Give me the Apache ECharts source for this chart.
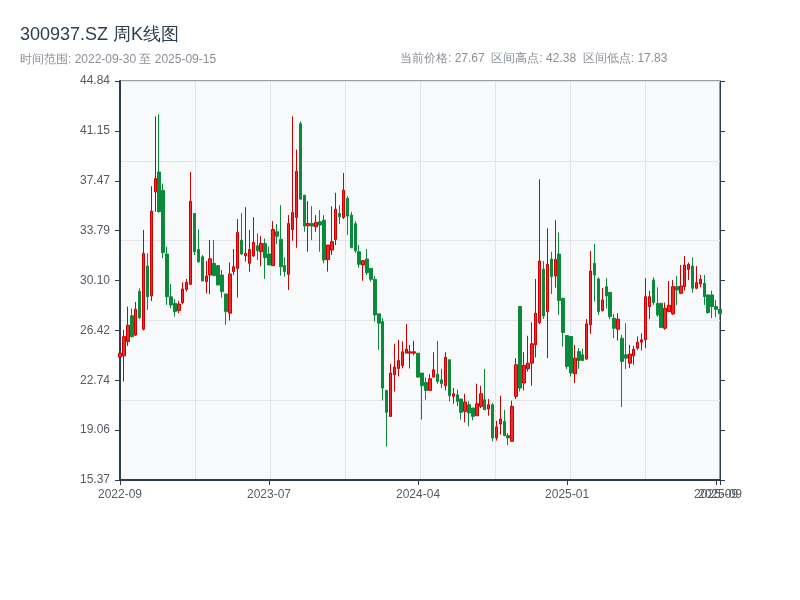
<!DOCTYPE html>
<html>
<head>
<meta charset="utf-8">
<script src="https://cdn.jsdelivr.net/npm/echarts@6/dist/echarts.min.js"></script>
<style>html,body{margin:0;padding:0;background:#fff}#c{width:800px;height:600px}</style>
</head>
<body>
<div id="c"></div>
<script>
const dates = [
'2022-09-30','2022-10-14','2022-10-21','2022-10-28','2022-11-04','2022-11-11','2022-11-18','2022-11-25','2022-12-02','2022-12-09','2022-12-16','2022-12-23','2022-12-30',
'2023-01-06','2023-01-13','2023-01-20','2023-02-03','2023-02-10','2023-02-17','2023-02-24','2023-03-03','2023-03-10','2023-03-17','2023-03-24','2023-03-31','2023-04-07','2023-04-14','2023-04-21','2023-04-28','2023-05-05','2023-05-12','2023-05-19','2023-05-26','2023-06-02','2023-06-09','2023-06-16','2023-06-21','2023-06-30','2023-07-07',
'2023-07-14','2023-07-21','2023-07-28','2023-08-04','2023-08-11','2023-08-18','2023-08-25','2023-09-01','2023-09-08','2023-09-15','2023-09-22','2023-09-28','2023-10-13','2023-10-20','2023-10-27','2023-11-03','2023-11-10','2023-11-17','2023-11-24','2023-12-01','2023-12-08','2023-12-15','2023-12-22','2023-12-29',
'2024-01-05','2024-01-12','2024-01-19','2024-01-26','2024-02-02','2024-02-08','2024-02-23','2024-03-01','2024-03-08','2024-03-15','2024-03-22','2024-03-29','2024-04-03','2024-04-12',
'2024-04-19','2024-04-26','2024-04-30','2024-05-10','2024-05-17','2024-05-24','2024-05-31','2024-06-07','2024-06-14','2024-06-21','2024-06-28','2024-07-05','2024-07-12','2024-07-19','2024-07-26','2024-08-02','2024-08-09','2024-08-16','2024-08-23','2024-08-30','2024-09-06','2024-09-13','2024-09-20','2024-09-27','2024-09-30','2024-10-11','2024-10-18','2024-10-25','2024-11-01','2024-11-08','2024-11-15','2024-11-22','2024-11-29','2024-12-06','2024-12-13','2024-12-20','2024-12-27',
'2025-01-03','2025-01-10','2025-01-17','2025-01-24','2025-01-27','2025-02-05','2025-02-07','2025-02-14','2025-02-21','2025-02-28','2025-03-07','2025-03-14','2025-03-21','2025-03-28','2025-04-03','2025-04-11','2025-04-18','2025-04-25','2025-04-30','2025-05-09','2025-05-16','2025-05-23','2025-05-30','2025-06-03','2025-06-06','2025-06-13','2025-06-20','2025-06-27','2025-07-04','2025-07-11','2025-07-18','2025-07-25','2025-08-01','2025-08-08','2025-08-15','2025-08-22','2025-08-29','2025-09-05','2025-09-12','2025-09-15'
];

const opens = [
24.45,24.54,25.60,27.50,26.07,29.30,26.51,31.17,28.96,36.65,38.12,36.77,32.06,28.90,28.42,27.88,28.47,29.45,29.82,35.05,
32.40,31.86,30.02,30.51,31.37,31.20,30.51,29.11,27.69,30.76,31.00,33.09,31.93,31.37,31.91,32.67,32.23,32.84,32.06,31.20,
33.70,33.14,31.20,30.56,33.87,34.76,41.68,36.40,34.15,34.32,34.07,34.44,34.56,31.66,32.35,33.14,35.05,34.76,36.16,34.93,
34.30,32.23,31.25,31.69,31.00,30.19,27.64,27.07,21.99,20.07,23.14,23.61,23.83,24.74,24.74,24.74,24.74,23.27,22.58,21.99,
22.97,23.19,22.77,22.33,24.25,21.55,21.67,21.35,20.44,20.93,20.69,20.12,20.81,21.30,20.61,20.93,18.48,19.51,19.70,18.65,
18.23,21.55,28.18,22.53,23.58,24.00,25.35,27.00,30.95,27.81,31.69,30.44,32.06,28.79,26.04,25.97,23.22,24.86,24.62,24.30,
26.83,31.37,30.22,27.88,29.65,29.23,27.32,26.51,25.84,24.62,24.00,24.54,25.11,25.55,25.72,28.18,30.14,28.42,28.42,26.58,
27.81,27.64,29.65,29.16,29.65,30.93,31.17,29.53,29.85,29.90,29.04,29.04,28.18,27.98
];
const closes = [
24.74,25.96,26.80,25.95,27.98,27.35,32.10,28.91,35.23,37.63,35.20,32.15,28.91,28.30,27.81,28.37,29.48,29.97,35.96,32.23,
31.49,30.07,30.44,31.71,30.46,29.77,29.28,27.81,30.58,31.12,33.65,32.06,32.10,32.40,32.92,32.30,32.84,31.79,31.25,33.87,
33.38,31.12,30.76,34.32,35.13,38.17,36.11,34.12,34.32,34.12,34.39,34.20,31.62,32.72,32.97,35.37,34.81,36.77,34.86,32.52,
32.30,31.30,31.57,30.68,30.19,27.56,26.95,22.16,20.37,23.27,23.71,24.20,24.84,25.03,24.84,24.84,22.97,22.33,21.99,22.85,
23.51,22.65,22.48,24.44,21.60,21.74,21.18,20.37,21.13,20.32,20.07,21.00,21.74,20.56,20.93,18.48,19.29,19.88,18.65,18.48,
20.81,23.88,22.16,23.83,24.00,25.43,27.69,31.54,27.49,31.30,30.39,31.66,28.62,26.26,23.76,23.27,24.37,24.20,24.20,26.90,
30.81,30.51,27.81,28.67,28.96,27.44,26.58,27.25,24.13,24.37,24.67,25.03,25.55,25.72,28.91,28.91,28.47,27.56,26.63,28.05,
28.28,29.65,29.40,29.70,31.25,31.30,29.53,29.95,30.19,28.91,27.74,28.18,27.98,27.67
];
const lows = [
24.40,22.65,25.28,25.90,26.02,27.24,26.41,27.93,28.59,35.18,35.10,31.74,28.30,28.05,27.44,27.69,28.35,29.28,29.82,31.98,
31.40,30.07,29.16,29.09,30.46,29.77,28.84,26.83,27.15,30.51,28.84,31.98,31.50,30.76,31.86,31.61,31.17,30.22,31.25,31.20,
32.79,30.46,30.39,29.40,33.04,32.52,36.11,33.70,32.23,33.09,33.70,32.23,31.37,30.76,31.98,32.72,34.27,34.64,33.46,32.52,
32.16,31.05,30.09,30.51,30.02,27.07,24.98,21.25,17.83,20.07,21.91,23.02,23.61,24.74,23.61,24.57,22.95,19.83,21.30,21.99,
22.97,22.48,22.16,21.99,21.18,21.00,20.81,19.83,19.63,19.34,19.78,20.12,20.69,20.56,20.12,18.23,18.28,18.72,18.60,17.94,
18.23,21.35,21.91,21.99,23.39,22.33,24.42,26.88,27.27,24.37,29.11,29.58,27.56,25.23,23.56,23.02,22.53,23.58,24.13,24.25,
26.16,28.55,27.56,27.81,28.05,27.25,25.84,25.67,20.76,23.56,23.63,23.88,24.98,24.94,25.11,27.25,28.30,27.44,26.63,26.46,
27.81,27.56,28.30,29.11,29.36,30.14,29.21,29.46,29.60,28.30,27.64,27.32,27.39,27.67
];
const highs = [
24.80,26.46,28.18,28.05,28.52,29.53,33.83,32.11,37.07,42.22,42.38,37.26,32.60,29.85,28.72,28.59,29.97,30.22,38.12,35.05,
33.87,31.98,31.54,33.09,33.09,31.25,30.88,29.11,31.44,32.43,34.64,35.08,35.52,33.83,34.78,33.58,33.38,33.21,32.60,34.49,
34.27,35.67,31.81,34.93,42.22,39.77,41.86,36.40,35.96,35.59,34.93,35.30,34.93,32.72,35.59,36.58,35.67,38.05,36.33,35.18,
34.51,32.72,31.62,32.43,31.00,30.44,27.64,27.32,21.99,23.95,25.43,25.72,25.60,26.90,25.35,25.65,24.74,23.27,22.95,23.19,
24.81,25.65,23.58,24.81,24.25,22.16,22.04,21.35,21.74,21.18,20.69,22.48,22.33,23.58,21.35,21.06,19.75,21.60,20.56,18.84,
21.23,24.37,28.18,24.81,26.02,27.02,30.22,37.58,31.54,33.95,32.23,34.56,33.65,28.79,26.04,25.97,25.35,25.11,25.06,27.25,
32.28,32.80,30.34,29.55,30.27,29.23,27.64,27.69,26.09,26.95,25.35,25.28,25.97,26.21,30.27,29.33,30.34,29.60,28.42,28.47,
30.07,30.14,30.44,31.25,31.91,31.42,31.81,31.17,30.51,30.51,29.04,29.36,28.67,27.98
];

const yMin = 15.3725, yStep = 3.683, yMax = yMin + 8 * yStep;
const labelEvery = 38;
const axisColor = '#2d3b4d';
const labelColor = '#555c66';

const kData = dates.map((d, i) => [opens[i], closes[i], lows[i], highs[i]]);
const lastIdx = dates.length - 1;
const regularLabel = (idx) => idx % labelEvery === 0;
const tickAt = (idx) => idx % labelEvery === 0 || idx === lastIdx;
const lastLabel = (idx) => idx === lastIdx;

const chart = echarts.init(document.getElementById('c'), null, { renderer: 'canvas' });
chart.setOption({
  backgroundColor: '#ffffff',
  animation: false,
  title: [{
    text: '300937.SZ 周K线图',
    subtext: '时间范围: 2022-09-30 至 2025-09-15',
    left: 15, top: 21, itemGap: 10,
    textStyle: { fontSize: 18, color: '#2c3e50', fontWeight: 'normal' },
    subtextStyle: { fontSize: 12, color: '#8a8f96' }
  }],
  graphic: [{
    type: 'text', left: 400, top: 53,
    style: { text: '当前价格: 27.67  区间高点: 42.38  区间低点: 17.83', fill: '#8a8f96', fontSize: 12 }
  }],
  grid: { left: 120, right: 80, top: 81, bottom: 120, show: true, backgroundColor: '#f7f9fb', borderColor: axisColor, borderWidth: 1 },
  xAxis: [{
    type: 'category', data: dates, boundaryGap: false, position: 'bottom',
    axisLine: { lineStyle: { color: axisColor, width: 2 } },
    axisTick: { show: true, length: 5, interval: tickAt, lineStyle: { color: axisColor } },
    axisLabel: { interval: regularLabel, hideOverlap: false, formatter: v => v.slice(0, 7), color: labelColor, fontSize: 12, margin: 9 },
    splitLine: { show: false }
  }, {
    type: 'value', min: 0, max: 8, interval: 1, position: 'top',
    axisLine: { show: false }, axisTick: { show: false }, axisLabel: { show: false },
    splitLine: { show: true, lineStyle: { color: '#e1e4e9', width: 1 } }
  }, {
    type: 'category', data: dates, boundaryGap: false, position: 'bottom',
    axisLine: { show: false }, axisTick: { show: false },
    axisLabel: { interval: lastLabel, hideOverlap: false, formatter: v => v.slice(0, 7), color: labelColor, fontSize: 12, margin: 9 },
    splitLine: { show: false }
  }],
  yAxis: [{
    type: 'value', min: yMin, max: yMax, interval: yStep, position: 'left', scale: true,
    axisLine: { show: true, lineStyle: { color: axisColor, width: 2 } },
    axisTick: { show: true, length: 5, lineStyle: { color: axisColor } },
    axisLabel: { formatter: v => v.toFixed(2), color: labelColor, fontSize: 12, margin: 10 },
    splitLine: { show: false }
  }, {
    type: 'value', min: yMin, max: yMax, interval: yStep, position: 'right', scale: true,
    axisLine: { show: true, lineStyle: { color: axisColor, width: 1 } },
    axisTick: { show: true, length: 5, lineStyle: { color: axisColor } },
    axisLabel: { show: false },
    splitLine: { show: false }
  }, {
    type: 'value', min: 0, max: 5, interval: 1, position: 'left',
    axisLine: { show: false }, axisTick: { show: false }, axisLabel: { show: false },
    splitLine: { show: true, lineStyle: { color: '#e1e4e9', width: 1 } }
  }],
  series: [{
    type: 'candlestick', xAxisIndex: 0, yAxisIndex: 0, data: kData, barWidth: 3,
    itemStyle: { color: '#ee2a2a', color0: '#0a8a3a', borderColor: '#cc0000', borderColor0: '#0a8a3a', borderWidth: 1 }
  }]
});
</script>
</body>
</html>
